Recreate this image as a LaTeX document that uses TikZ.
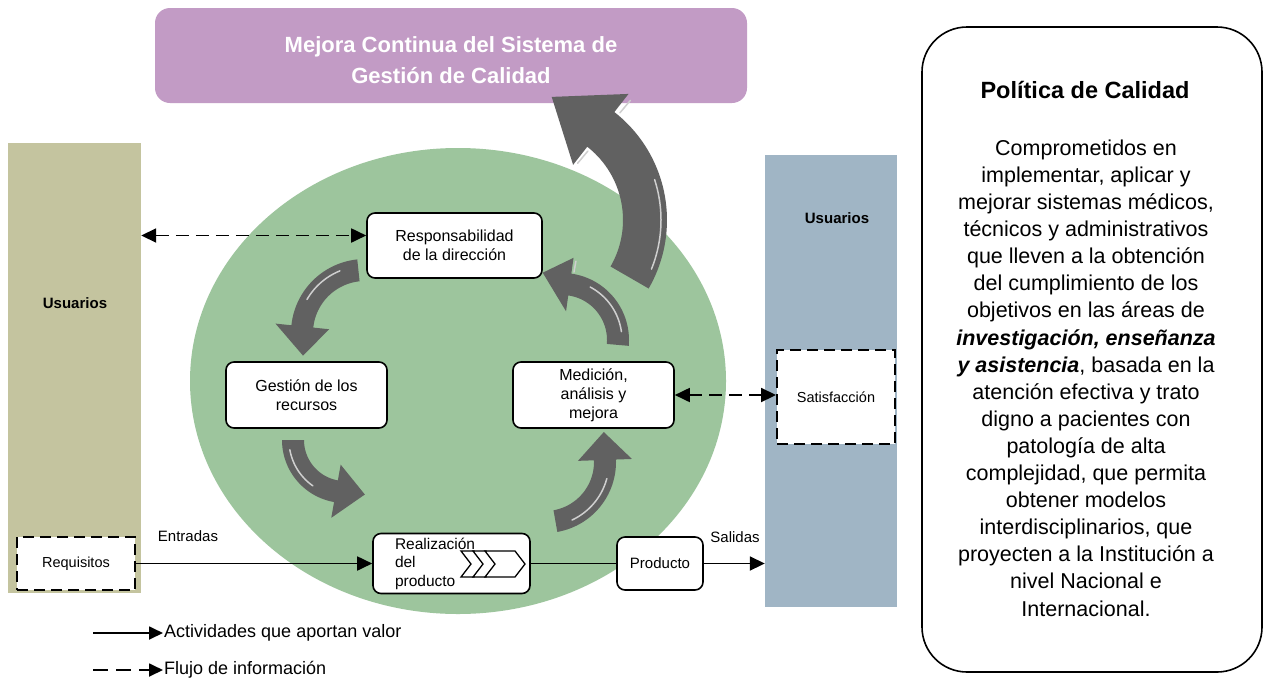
\documentclass[tikz,border=0pt]{standalone}
\usepackage{fontspec}
\setmainfont{Liberation Sans}
\usetikzlibrary{arrows.meta}
\definecolor{barolive}{HTML}{C4C49F}
\definecolor{barblue}{HTML}{A0B5C5}
\definecolor{circgreen}{HTML}{9DC59D}
\definecolor{titlepurple}{HTML}{C29BC5}
\definecolor{agray}{HTML}{616161}
\definecolor{hlgray}{HTML}{CFCFCF}
% curved block arrow: cx cy r halfband tailangle headangle headhalf tipangle tipradius
\newcommand{\grayarrow}[9]{%
  \fill[agray] plot[domain=#5:#6,samples=40] ({#1+(#3-#4)*cos(\x)},{#2+(#3-#4)*sin(\x)})
    -- ({#1+(#3-#7)*cos(#6)},{#2+(#3-#7)*sin(#6)})
    -- ({#1+#9*cos(#8)},{#2+#9*sin(#8)})
    -- ({#1+(#3+#7)*cos(#6)},{#2+(#3+#7)*sin(#6)})
    -- plot[domain=#6:#5,samples=40] ({#1+(#3+#4)*cos(\x)},{#2+(#3+#4)*sin(\x)}) -- cycle;}
\newcommand{\grayhl}[5]{%
  \draw[hlstripe] plot[domain=#4:#5,samples=30] ({#1+#3*cos(\x)},{#2+#3*sin(\x)});}
\newcommand{\grayhead}[5]{%
  \draw[hlstripe] ({#1+#3*cos(#5)},{#2+#3*sin(#5)}) -- ({#1+#4*cos(#5)},{#2+#4*sin(#5)});}
\begin{document}
\begin{tikzpicture}[x=1pt,y=-1pt,
  procbox/.style={draw, line width=1.6pt, rounded corners=8pt, fill=white, align=center, inner sep=0pt, font=\fontsize{16}{19}\selectfont},
  dashbox/.style={draw, line width=1.9pt, dash pattern=on 11pt off 6pt, fill=white, inner sep=0pt, font=\fontsize{14.5}{17}\selectfont},
  bar/.style={inner sep=0pt, draw=none},
  flow/.style={line width=1.8pt, -{Triangle[length=15pt,width=14pt]}},
  infoflow/.style={line width=1.8pt, dash pattern=on 13pt off 7pt, {Triangle[length=15pt,width=14pt]}-{Triangle[length=15pt,width=14pt]}},
  lbl/.style={font=\fontsize{15}{18}\selectfont, inner sep=0pt},
  usr/.style={font=\fontsize{15}{18}\selectfont\bfseries, inner sep=0pt},
  hlstripe/.style={draw=hlgray, line width=1.5pt, line cap=round},
  chev/.style={draw, line width=1.3pt, fill=white, line join=miter}
]
\useasboundingbox (0,0) rectangle (1263,686);
\fill[white] (0,0) rectangle (1263,686);

% green circle
\fill[circgreen] (458,381) ellipse [x radius=268pt, y radius=233pt];

% side bars
\node[bar, fill=barolive, minimum width=133pt, minimum height=450pt] (lbar) at (74.5,368) {};
\node[usr] (lusr) at (75,303) {Usuarios};
\node[bar, fill=barblue, minimum width=132pt, minimum height=452pt] (rbar) at (831,381) {};
\node[usr] (rusr) at (837,218) {Usuarios};

% title box
\node[fill=titlepurple, rounded corners=15pt, minimum width=592pt, minimum height=95pt, inner sep=0pt] (mejora) at (451,55.5) {};
\node[text=white, align=center, inner sep=0pt, font=\fontsize{22}{31}\selectfont\bfseries] (mejoratxt) at (451,60) {Mejora Continua del Sistema de\\Gestión de Calidad};

% small cycle arrows
\grayarrow{365}{333}{63}{11}{-96}{-174}{27}{-200}{66}
\grayhl{365}{333}{67}{-112}{-150}
\grayarrow{345}{440}{52}{11}{180}{100}{27}{70}{58}
\grayhl{345}{440}{56}{170}{125}
\grayarrow{545}{462}{60}{11}{80}{-2}{27}{-27}{66}
\grayhl{545}{462}{64}{65}{15}
\grayarrow{562}{340}{56}{11}{5}{-82}{27}{-106}{70}
\grayhl{562}{340}{60}{-8}{-62}
\grayhead{562}{340}{69}{80}{-80}

% boxes
\node[procbox, minimum width=175pt, minimum height=65pt] (resp) at (454.5,245.5) {Responsabilidad\\de la dirección};
\node[procbox, minimum width=161pt, minimum height=66pt] (gest) at (306.5,395) {Gestión de los\\recursos};
\node[procbox, minimum width=161pt, minimum height=66pt] (med) at (593.5,395) {Medición,\\análisis y\\mejora};
\node[procbox, minimum width=157pt, minimum height=60pt, text width=113pt, align=left, font=\fontsize{15.5}{18.5}\selectfont] (real) at (451.5,563.5) {Realización\\del\\producto};
\node[procbox, minimum width=86pt, minimum height=53pt, font=\fontsize{15}{18}\selectfont] (prod) at (660,563.5) {Producto};
\node[dashbox, minimum width=118pt, minimum height=53pt] (req) at (76,563.5) {Requisitos};
\node[dashbox, minimum width=118pt, minimum height=94pt] (sat) at (836,397) {Satisfacción};

% chevrons in Realizacion box
\draw[chev] (461,551) -- (474,551) -- (484,564) -- (474,577) -- (461,577) -- (471,564) -- cycle;
\draw[chev] (473,551) -- (486,551) -- (496,564) -- (486,577) -- (473,577) -- (483,564) -- cycle;
\draw[chev] (485,551) -- (515,551) -- (525,564) -- (515,577) -- (485,577) -- (495,564) -- cycle;

% big arrow
\grayarrow{530}{220}{115}{22}{30}{-52}{45}{-80}{125}
\grayhl{530}{220}{131}{22}{-18}
\grayhead{530}{220}{140}{156}{-50}
\grayhead{530}{220}{74}{90}{-50}

% connectors
\draw[flow] (req.east) -- (real.west);
\draw[line width=1.8pt] (real.east) -- (prod.west);
\draw[flow] (prod.east) -- (prod.east -| rbar.west);
\node[lbl] (entr) at (188,536) {Entradas};
\node[lbl] (sal) at (735,537) {Salidas};
\draw[infoflow] ([yshift=10pt]resp.west -| lbar.east) -- ([yshift=10pt]resp.west);
\draw[infoflow] (med.east) -- (med.east -| sat.west);

% legend
\coordinate (la1) at (93,633);
\coordinate (la2) at (163,633);
\coordinate (lb1) at (93,670);
\coordinate (lb2) at (163,670);
\draw[line width=1.8pt, -{Triangle[length=14pt,width=13pt]}] (la1) -- (la2);
\draw[line width=1.8pt, dash pattern=on 15pt off 8pt, -{Triangle[length=14pt,width=13pt]}] (lb1) -- (lb2);
\node[anchor=west, font=\fontsize{18}{21}\selectfont, inner sep=1pt] (leg1) at (la2) {Actividades que aportan valor};
\node[anchor=west, font=\fontsize{18}{21}\selectfont, inner sep=1pt] (leg2) at (lb2) {Flujo de información};

% politica box
\node[draw, line width=1.6pt, rounded corners=45pt, minimum width=340pt, minimum height=645pt, inner sep=0pt] (pol) at (1092,349.5) {};
\node[font=\fontsize{23.5}{28}\selectfont\bfseries, inner sep=0pt] (poltitle) at (1085,90) {Política de Calidad};
\node[font=\fontsize{21.5}{27.1}\selectfont, align=center, inner sep=0pt] (poltext) at (1086,378) {Comprometidos en\\implementar, aplicar y\\mejorar sistemas médicos,\\técnicos y administrativos\\que lleven a la obtención\\del cumplimiento de los\\objetivos en las áreas de\\\textbf{\textit{investigación, enseñanza}}\\\textbf{\textit{y asistencia}}, basada en la\\atención efectiva y trato\\digno a pacientes con\\patología de alta\\complejidad, que permita\\obtener modelos\\interdisciplinarios, que\\proyecten a la Institución a\\nivel Nacional e\\Internacional.};
\end{tikzpicture}
\end{document}
